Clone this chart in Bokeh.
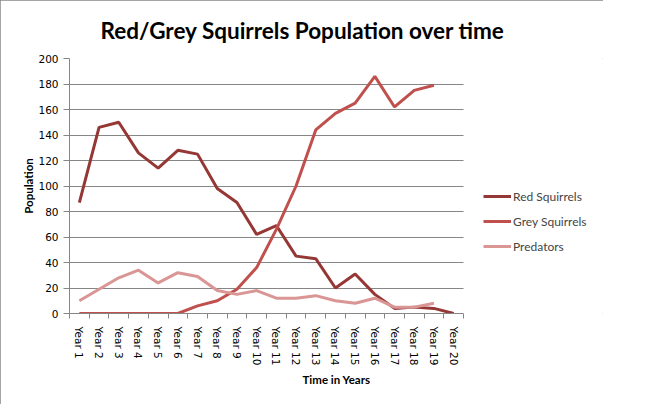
from bokeh.plotting import figure
from bokeh.models import Range1d, FixedTicker, Legend, LegendItem, BoxAnnotation
from bokeh.embed import file_html
from bokeh.resources import INLINE

years = [f"Year {i}" for i in range(1, 21)]
red_squirrels = [87, 146, 150, 126, 114, 128, 125, 98, 87, 62, 69, 45, 43, 20, 31, 15, 4, 5, 4, 0]
grey_squirrels = [0, 0, 0, 0, 0, 0, 6, 10, 19, 36, 66, 100, 144, 157, 165, 186, 162, 175, 179]
predators = [10, 19, 28, 34, 24, 32, 29, 18, 15, 18, 12, 12, 14, 10, 8, 12, 5, 5, 8]
y_ticks = [0, 20, 40, 60, 80, 100, 120, 140, 160, 180, 200]

GRID = "#868686"
W, H = 603, 404
LEFT, TOP, PLOT_W, PLOT_H = 69, 57, 394, 256
x_start, x_end = 0.5, 20.5
# frame extends to the right edge; the legend lives in that extra space
x_view_end = x_start + (W - LEFT) * (x_end - x_start) / PLOT_W

p = figure(width=W, height=H, output_backend="svg", toolbar_location=None,
           x_range=Range1d(x_start, x_view_end), y_range=Range1d(0, 200),
           min_border_left=LEFT, min_border_right=0, min_border_top=TOP,
           min_border_bottom=H - TOP - PLOT_H)
p.styles = {"outline": "1px solid #878787", "outline-offset": "-1px"}
p.outline_line_color = None

p.title.text = "Red/Grey Squirrels Population over time"
p.title.text_font = "Lato"
p.title.text_font_size = "22.5px"
p.title.text_font_style = "bold"
p.title.align = "left"
p.title.offset = 31
p.title.standoff = 29
p.title.text_color = "#000000"

xs = list(range(1, 21))
r1 = p.line(xs, red_squirrels, line_color="#953735", line_width=3)
r2 = p.line(xs[:len(grey_squirrels)], grey_squirrels, line_color="#C0504D", line_width=3)
r3 = p.line(xs[:len(predators)], predators, line_color="#D99694", line_width=3)

# hide grid lines beyond the category area
p.add_layout(BoxAnnotation(left=x_end, fill_color="white", fill_alpha=1, line_color=None))

# x axis
p.xaxis.bounds = (x_start, x_end)
p.xaxis.ticker = FixedTicker(ticks=xs, minor_ticks=[i + 0.5 for i in range(0, 21)])
p.xaxis.major_label_overrides = {i: years[i - 1] for i in xs}
p.xaxis.major_label_orientation = "vertical"
p.xaxis.major_tick_out = 0
p.xaxis.major_tick_in = 0
p.xaxis.minor_tick_out = 5
p.xaxis.minor_tick_in = 0
p.xaxis.minor_tick_line_color = GRID
p.xaxis.axis_line_color = GRID
p.xaxis.major_label_standoff = 8
p.xaxis.axis_label = "Time in Years"
p.xaxis.axis_label_standoff = 5

# y axis
p.yaxis.ticker = FixedTicker(ticks=y_ticks)
p.yaxis.major_tick_out = 6
p.yaxis.major_tick_in = 0
p.yaxis.minor_tick_line_color = None
p.yaxis.major_tick_line_color = GRID
p.yaxis.axis_line_color = GRID
p.yaxis.major_label_standoff = 5
p.yaxis.axis_label = "Population"
p.yaxis.axis_label_standoff = 0

for ax in (p.xaxis, p.yaxis):
    ax.major_label_text_font = "DejaVu Sans"
    ax.major_label_text_font_size = "10.5px"
    ax.major_label_text_color = "#000000"
    ax.axis_label_text_font = "Lato"
    ax.axis_label_text_font_size = "11.5px"
    ax.axis_label_text_font_style = "bold"
    ax.axis_label_text_color = "#000000"

p.xgrid.grid_line_color = None
p.ygrid.grid_line_color = GRID
p.ygrid.ticker = FixedTicker(ticks=y_ticks)

legend = Legend(items=[LegendItem(label="Red Squirrels", renderers=[r1]),
                       LegendItem(label="Grey Squirrels", renderers=[r2]),
                       LegendItem(label="Predators", renderers=[r3])],
                location=(PLOT_W + 20, 57), border_line_color=None, background_fill_alpha=0,
                label_text_font="Lato", label_text_font_size="12px",
                glyph_width=28, glyph_height=20, label_height=20, spacing=5,
                label_standoff=2, padding=10, margin=0)
p.add_layout(legend, "center")

open("out.html", "w").write(file_html(p, INLINE))
